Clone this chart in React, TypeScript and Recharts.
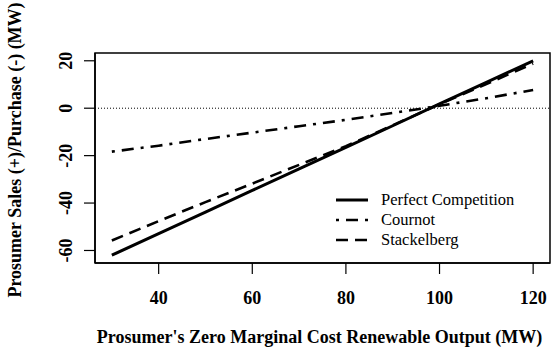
import React from 'react';
import { LineChart, Line, XAxis, YAxis, ReferenceLine, ReferenceArea } from 'recharts';

const outputs = [30, 40, 50, 60, 70, 80, 90, 100, 110, 120];
const perfectCompetition = [-62, -52.9, -43.8, -34.7, -25.6, -16.5, -7.4, 1.8, 10.9, 20];
const cournot = [-18.3, -15.8, -13.0, -10.3, -7.6, -4.9, -2.0, 1.0, 4.2, 7.7];
const stackelberg = [-55.8, -47.6, -39.6, -31.8, -23.9, -16.0, -7.2, 1.7, 10.2, 18.8];
const xTicks = [40, 60, 80, 100, 120];
const yTicks = [-60, -40, -20, 0, 20];
const seriesKeys = ['pc', 'cournot', 'stackelberg'];
const seriesNames = ['Perfect Competition', 'Cournot', 'Stackelberg'];
const xTitle = "Prosumer's Zero Marginal Cost Renewable Output (MW)";
const yTitle = 'Prosumer Sales (+)/Purchase (-) (MW)';

const X_DOMAIN: [number, number] = [26.4, 123.6];
const Y_DOMAIN: [number, number] = [-65.28, 23.28];

const data = outputs.map((x, i) => ({
  x,
  pc: perfectCompetition[i],
  cournot: cournot[i],
  stackelberg: stackelberg[i],
}));

const FONT = '"Liberation Serif", "Times New Roman", Times, serif';

const styles: Record<string, { dash?: string; width: number }> = {
  pc: { width: 3 },
  cournot: { dash: '3 7 12 7', width: 2.6 },
  stackelberg: { dash: '12 7', width: 2.6 },
};

const XTick = (props: any) => {
  const { x, y, payload } = props;
  return (
    <text x={x} y={y} textAnchor="middle" fontFamily={FONT} fontWeight="bold" fontSize={18} fill="#000">
      {payload.value}
    </text>
  );
};

const YTick = (props: any) => {
  const { x, y, payload } = props;
  return (
    <text x={x} y={y} textAnchor="middle" transform={`rotate(-90 ${x} ${y})`} fontFamily={FONT} fontWeight="bold" fontSize={18} fill="#000">
      {payload.value}
    </text>
  );
};

const XTitle = (props: any) => {
  const vb = props.viewBox || {};
  return (
    <text x={vb.x + vb.width / 2 - 3} y={vb.y + 80} textAnchor="middle" fontFamily={FONT} fontWeight="bold" fontSize={18} fill="#000">
      {xTitle}
    </text>
  );
};

const YTitle = (props: any) => {
  const vb = props.viewBox || {};
  const cx = vb.x + 21;
  const cy = vb.y + vb.height / 2 - 8;
  return (
    <text x={cx} y={cy} textAnchor="middle" transform={`rotate(-90 ${cx} ${cy})`} fontFamily={FONT} fontWeight="bold" fontSize={18} fill="#000">
      {yTitle}
    </text>
  );
};

const LegendBox = () => (
  <div style={{ position: 'absolute', left: 336, top: 190, fontFamily: FONT, fontSize: 16.5, color: '#000', lineHeight: '20px' }}>
    {seriesKeys.map((k, i) => {
      const s = styles[k];
      return (
        <div key={k} style={{ display: 'flex', alignItems: 'center', height: 20 }}>
          <svg width={32} height={20} style={{ marginRight: 13, display: 'block' }}>
            <line x1={0} x2={32} y1={10} y2={10} stroke="#000" strokeWidth={s.width} strokeDasharray={s.dash} />
          </svg>
          <span style={{ fontFamily: FONT }}>{seriesNames[i]}</span>
        </div>
      );
    })}
  </div>
);

export default function App() {
  return (
    <div style={{ position: 'absolute', left: 0, top: 0, width: 553, height: 356, background: '#fff' }}>
      <LineChart width={553} height={356} data={data} margin={{ top: 53, right: 3, bottom: 0, left: 0 }}>
        <XAxis
          dataKey="x"
          type="number"
          domain={X_DOMAIN}
          ticks={xTicks}
          allowDataOverflow
          height={93}
          tickSize={11}
          tickMargin={30}
          tick={<XTick />}
          axisLine={{ stroke: '#000', strokeWidth: 1.5 }}
          tickLine={{ stroke: '#000', strokeWidth: 1.2 }}
          label={<XTitle />}
        />
        <YAxis
          type="number"
          domain={Y_DOMAIN}
          ticks={yTicks}
          allowDataOverflow
          width={95}
          tickSize={11}
          tickMargin={12}
          tick={<YTick />}
          axisLine={{ stroke: '#000', strokeWidth: 1.5 }}
          tickLine={{ stroke: '#000', strokeWidth: 1.2 }}
          label={<YTitle />}
        />
        <ReferenceArea x1={X_DOMAIN[0]} x2={X_DOMAIN[1]} y1={Y_DOMAIN[0]} y2={Y_DOMAIN[1]} fill="none" fillOpacity={0} stroke="#000" strokeWidth={1.5} ifOverflow="visible" />
        <ReferenceLine y={0} stroke="#000" strokeWidth={1} strokeDasharray="1 2" />
        <Line dataKey="pc" name={seriesNames[0]} stroke="#000" strokeWidth={styles.pc.width} dot={false} isAnimationActive={false} />
        <Line dataKey="cournot" name={seriesNames[1]} stroke="#000" strokeWidth={styles.cournot.width} strokeDasharray={styles.cournot.dash} dot={false} isAnimationActive={false} />
        <Line dataKey="stackelberg" name={seriesNames[2]} stroke="#000" strokeWidth={styles.stackelberg.width} strokeDasharray={styles.stackelberg.dash} dot={false} isAnimationActive={false} />
      </LineChart>
      <LegendBox />
    </div>
  );
}
